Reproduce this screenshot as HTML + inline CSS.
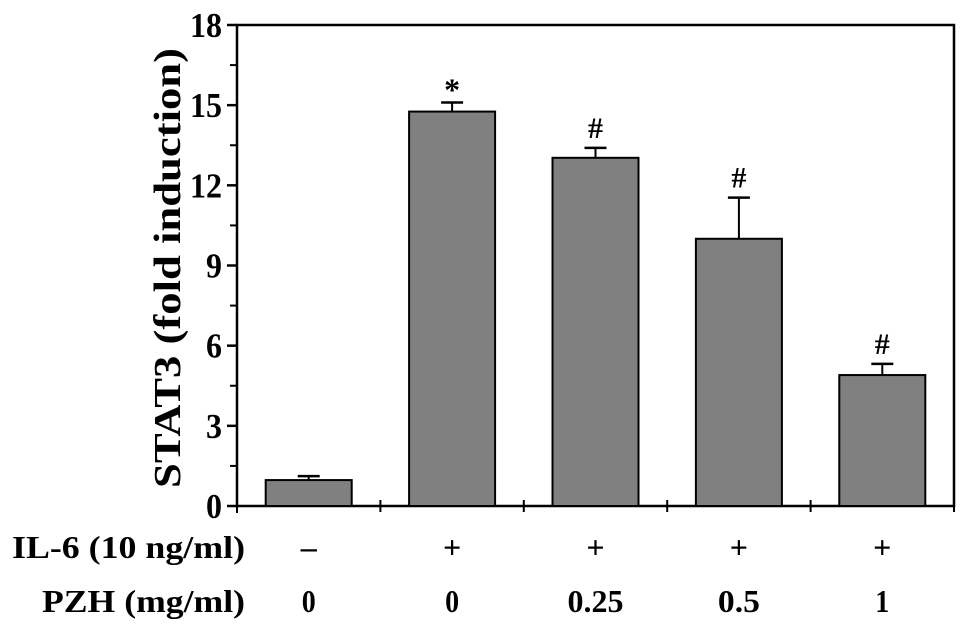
<!DOCTYPE html>
<html><head><meta charset="utf-8"><style>
body{margin:0;background:#fff;}
svg text{font-family:"Liberation Serif","Times New Roman",Times,serif;font-weight:bold;fill:#000;}
</style></head><body>
<svg width="969" height="633" viewBox="0 0 969 633">
<g id="chart"></g>
</svg>
<script>
const categories=["c1","c2","c3","c4","c5"];
const values=[0.97,14.76,13.03,10.0,4.9];
const errors=[0.15,0.34,0.37,1.54,0.42];
const marks=["","*","#","#","#"];
const il6Labels=["\u2013","+","+","+","+"];
const pzhLabels=["0","0","0.25","0.5","1"];
const yTicks=[0,3,6,9,12,15,18];
const yMax=18;
const L=237,R=954,T=25,B=506;
const ns="http://www.w3.org/2000/svg";
const g=document.getElementById('chart');
function y(v){return B-(v/yMax)*(B-T);}
const bw=(R-L)/categories.length;
function x(i){return L+bw*(i+0.5);}
function el(t,a,txt){const e=document.createElementNS(ns,t);for(const k in a)e.setAttribute(k,a[k]);if(t==='text')e.setAttribute('font-family','Liberation Serif, Times New Roman, serif');if(txt!==undefined)e.textContent=txt;g.appendChild(e);return e;}
let e;
e=el('path',{d:`M${L},${T}H${R}V${B}H${L}Z`,fill:'none',stroke:'#000','stroke-width':2.5});


yTicks.forEach(t=>{
 e=el('line',{x1:L-10,x2:L,y1:y(t),y2:y(t),stroke:'#000','stroke-width':2.5});
 
 
 const s=String(t);
 e=el('text',{x:L-15,y:y(t)+12,'text-anchor':'end','font-size':35,textLength:s.length*16,lengthAdjust:'spacingAndGlyphs'},s);
 
 
});
for(let t=1.5;t<yMax;t+=3){
 e=el('line',{x1:L-7,x2:L,y1:y(t),y2:y(t),stroke:'#000','stroke-width':2});
 
 
}
for(let i=1;i<=categories.length;i++){
 e=el('line',{x1:L+bw*i,x2:L+bw*i,y1:B-6,y2:B+6,stroke:'#000','stroke-width':2});
 
 
}
e=el('line',{x1:L,x2:L,y1:B,y2:B+7,stroke:'#000','stroke-width':2});


const barW=86;
categories.forEach((c,i)=>{
 const cx=x(i),top=y(values[i]),et=y(values[i]+errors[i]);
 e=el('line',{x1:cx,x2:cx,y1:top,y2:et,stroke:'#000','stroke-width':2});
 
 
 e=el('line',{x1:cx-11,x2:cx+11,y1:et,y2:et,stroke:'#000','stroke-width':2.5});
 
 
 e=el('rect',{x:cx-barW/2,y:top,width:barW,height:B-top,fill:'#808080',stroke:'#000','stroke-width':2});
 
 
 if(marks[i]){
  e=el('text',{x:cx,y:et-(marks[i]=='*'?2:10),'text-anchor':'middle','font-size':marks[i]=='*'?32:30},marks[i]);
  
  
 }
 e=el('text',{x:cx,y:558,'text-anchor':'middle','font-size':32},il6Labels[i]);
 
 
 const p=pzhLabels[i];
 e=el('text',{x:cx,y:612,'text-anchor':'middle','font-size':32,textLength:p.length*14,lengthAdjust:'spacingAndGlyphs'},p);
 
 
});
e=el('text',{x:12,y:558,'font-size':32,textLength:233,lengthAdjust:'spacingAndGlyphs'},'IL-6 (10 ng/ml)');


e=el('text',{x:42,y:612,'font-size':32,textLength:203,lengthAdjust:'spacingAndGlyphs'},'PZH (mg/ml)');


e=el('text',{x:0,y:0,'font-size':38,'text-anchor':'middle',textLength:440,lengthAdjust:'spacingAndGlyphs',transform:'translate(180,268) rotate(-90)'},'STAT3 (fold induction)');


</script>
</body></html>
